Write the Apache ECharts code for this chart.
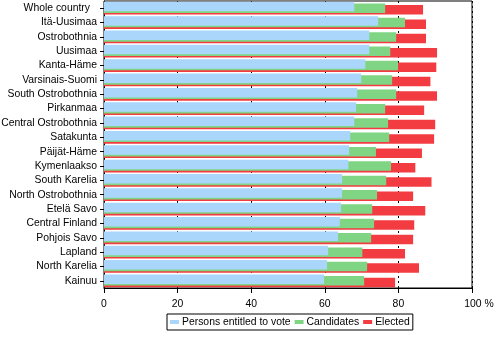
<!DOCTYPE html>
<html>
<head>
<meta charset="utf-8">
<script src="https://cdn.jsdelivr.net/npm/echarts@6/dist/echarts.min.js"></script>
<style>
  html, body { margin: 0; padding: 0; background: #fff; }
  #chart { width: 495px; height: 338px; }
</style>
</head>
<body>
<div id="chart"></div>
<script>
// Regions, top to bottom
const regions = [
  'Whole country', 'Itä-Uusimaa', 'Ostrobothnia', 'Uusimaa', 'Kanta-Häme',
  'Varsinais-Suomi', 'South Ostrobothnia', 'Pirkanmaa', 'Central Ostrobothnia',
  'Satakunta', 'Päijät-Häme', 'Kymenlaakso', 'South Karelia', 'North Ostrobothnia',
  'Etelä Savo', 'Central Finland', 'Pohjois Savo', 'Lapland', 'North Karelia', 'Kainuu'
];

// Shares, %
const entitled = [68.0, 74.5, 72.1, 72.1, 71.0, 69.9, 68.8, 68.5, 68.0, 66.9,
                  66.6, 66.4, 64.7, 64.7, 64.4, 64.1, 63.6, 60.9, 60.6, 59.8];
const candidates = [76.4, 81.8, 79.4, 77.8, 79.9, 78.3, 79.4, 76.4, 77.2, 77.5,
                    73.9, 78.0, 76.7, 74.2, 72.9, 73.4, 72.6, 70.2, 71.5, 70.7];
const elected = [86.7, 87.5, 87.5, 90.5, 90.3, 88.7, 90.5, 87.0, 90.0, 89.7,
                 86.4, 84.6, 89.0, 84.0, 87.3, 84.3, 84.0, 81.8, 85.6, 79.1];

const xTicks = [0, 20, 40, 60, 80, 100];

const font = 'Liberation Sans, Arial, sans-serif';
const fs = 10.4;
const chart = echarts.init(document.getElementById('chart'), null, { renderer: 'canvas' });

chart.setOption({
  animation: false,
  textStyle: { fontFamily: font, color: '#000' },
  grid: {
    left: 104, right: 23, top: 1, bottom: 50,
    outerBoundsMode: 'none', containLabel: false,
    show: true, borderColor: '#000', borderWidth: 1, backgroundColor: 'transparent'
  },
  legend: {
    data: ['Persons entitled to vote', 'Candidates', 'Elected'],
    top: 314, left: 167,
    orient: 'horizontal',
    borderColor: '#000', borderWidth: 1,
    padding: [3, 3, 3, 3],
    itemWidth: 9, itemHeight: 4, itemGap: 4,
    icon: 'rect',
    textStyle: { fontFamily: font, fontSize: fs, color: '#000', padding: [0, 0, 0, -2] }
  },
  xAxis: {
    type: 'value', min: xTicks[0], max: xTicks[xTicks.length - 1], interval: 20,
    axisLine: { show: true, lineStyle: { color: '#000', width: 1 } },
    axisTick: { show: true, length: 5, lineStyle: { color: '#000' } },
    axisLabel: {
      color: '#000', fontFamily: font, fontSize: fs, margin: 11,
      formatter: v => v === 100 ? '{p|100 %}' : String(v),
      rich: { p: { fontFamily: font, fontSize: fs, color: '#000', padding: [0, 0, 0, 14] } }
    },
    splitLine: { show: true, lineStyle: { color: '#000', width: 1, type: [2, 3] } }
  },
  yAxis: {
    type: 'category', data: regions, inverse: true,
    axisLine: { show: true, lineStyle: { color: '#000', width: 1 } },
    axisTick: { show: true, alignWithLabel: true, length: 4, lineStyle: { color: '#000' } },
    axisLabel: {
      color: '#000', fontFamily: font, fontSize: fs, margin: 7,
      formatter: (v, i) => i === 0 ? '{w|' + v + '}' : v,
      rich: { w: { fontFamily: font, fontSize: fs, color: '#000', padding: [0, 7, 0, 0] } }
    },
    splitLine: { show: false }
  },
  series: [
    {
      name: 'Persons entitled to vote', type: 'bar', data: entitled,
      barWidth: 9.5, barGap: '-83%', z: 4,
      itemStyle: { color: '#aad6fb' }
    },
    {
      name: 'Candidates', type: 'bar', data: candidates,
      barWidth: 9.5, barGap: '-83%', z: 3,
      itemStyle: { color: '#7fd584' }
    },
    {
      name: 'Elected', type: 'bar', data: elected,
      barWidth: 9.5, barGap: '-83%', z: 2,
      itemStyle: { color: '#f23c41' }
    }
  ]
});
</script>
</body>
</html>
